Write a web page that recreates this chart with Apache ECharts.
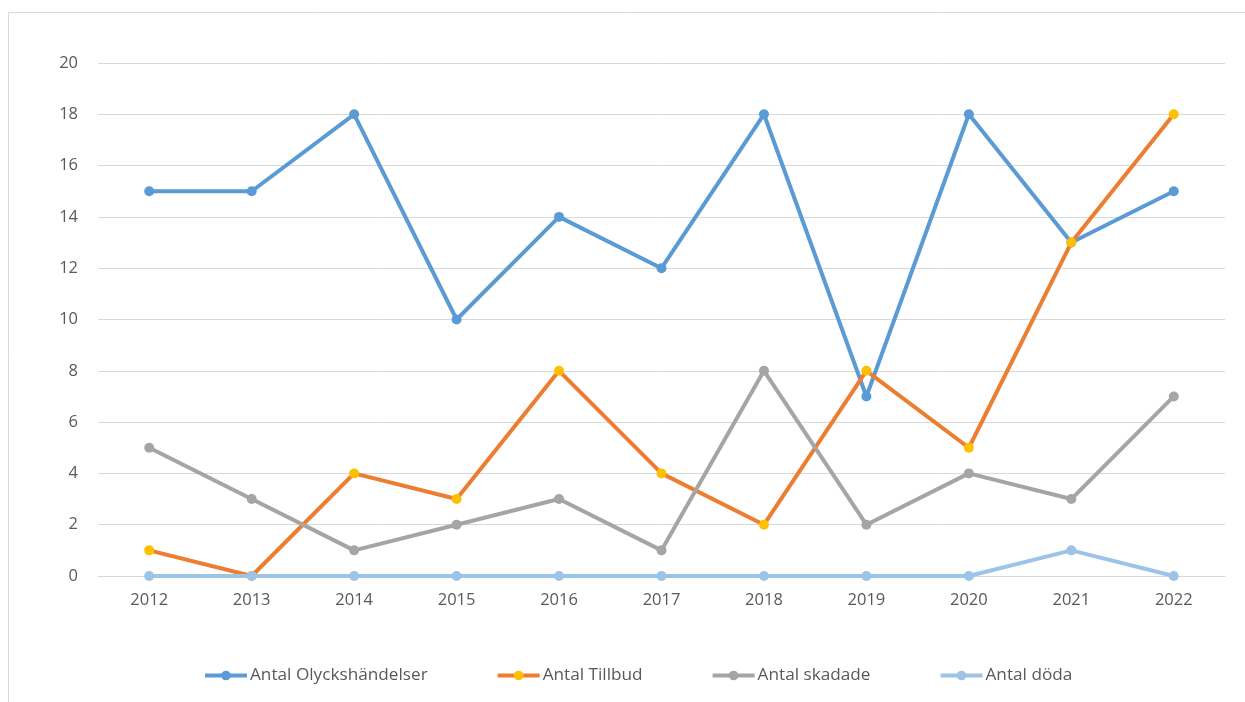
<!DOCTYPE html>
<html>
<head>
<meta charset="utf-8">
<script src="https://cdn.jsdelivr.net/npm/echarts@6/dist/echarts.min.js"></script>
<style>html,body{margin:0;padding:0;background:#fff}#c{width:1245px;height:702px}</style>
</head>
<body>
<div id="c"></div>
<script>
const years = ['2012','2013','2014','2015','2016','2017','2018','2019','2020','2021','2022'];
const olyckshandelser = [15,15,18,10,14,12,18,7,18,13,15];
const tillbud = [1,0,4,3,8,4,2,8,5,13,18];
const skadade = [5,3,1,2,3,1,8,2,4,3,7];
const doda = [0,0,0,0,0,0,0,0,0,1,0];
const seriesNames = ['Antal Olyckshändelser','Antal Tillbud','Antal skadade','Antal döda'];

const font = '"Open Sans", "Noto Sans", sans-serif';
const chart = echarts.init(document.getElementById('c'), null, {renderer:'canvas'});
function mk(name, data, lineColor, markerColor){
  return {
    name, type:'line', data,
    symbol:'circle', symbolSize:10,
    lineStyle:{color:lineColor, width:4},
    itemStyle:{color:markerColor, borderWidth:0},
    emphasis:{disabled:true},
    animation:false
  };
}
chart.setOption({
  animation:false,
  graphic:[{type:'rect', shape:{x:8.5,y:12.5,width:1300,height:800}, style:{fill:'none', stroke:'#d9d9d9', lineWidth:1}, silent:true, z:-1}],
  grid:{left:98, right:20, top:63, bottom:126},
  xAxis:{
    type:'category', data:years, boundaryGap:true,
    axisLine:{show:true, lineStyle:{color:'#d9d9d9'}},
    axisTick:{show:false},
    axisLabel:{color:'#595959', fontSize:16.5, fontFamily:font, margin:16}
  },
  yAxis:{
    type:'value', min:0, max:20, interval:2,
    axisLine:{show:false}, axisTick:{show:false},
    splitLine:{lineStyle:{color:'#d9d9d9', width:1}},
    axisLabel:{color:'#595959', fontSize:16.5, fontFamily:font, margin:20}
  },
  legend:{
    data:seriesNames, left:198, top:662, itemWidth:42, itemHeight:12, itemGap:68,
    lineStyle:{width:4},
    textStyle:{color:'#595959', fontSize:17.2, fontFamily:font, padding:[0,0,0,-2]}
  },
  series:[
    mk(seriesNames[0], olyckshandelser, '#5B9BD5', '#5B9BD5'),
    mk(seriesNames[1], tillbud, '#ED7D31', '#FFC000'),
    mk(seriesNames[2], skadade, '#A5A5A5', '#A5A5A5'),
    mk(seriesNames[3], doda, '#9DC3E6', '#9DC3E6')
  ]
});
</script>
</body>
</html>
